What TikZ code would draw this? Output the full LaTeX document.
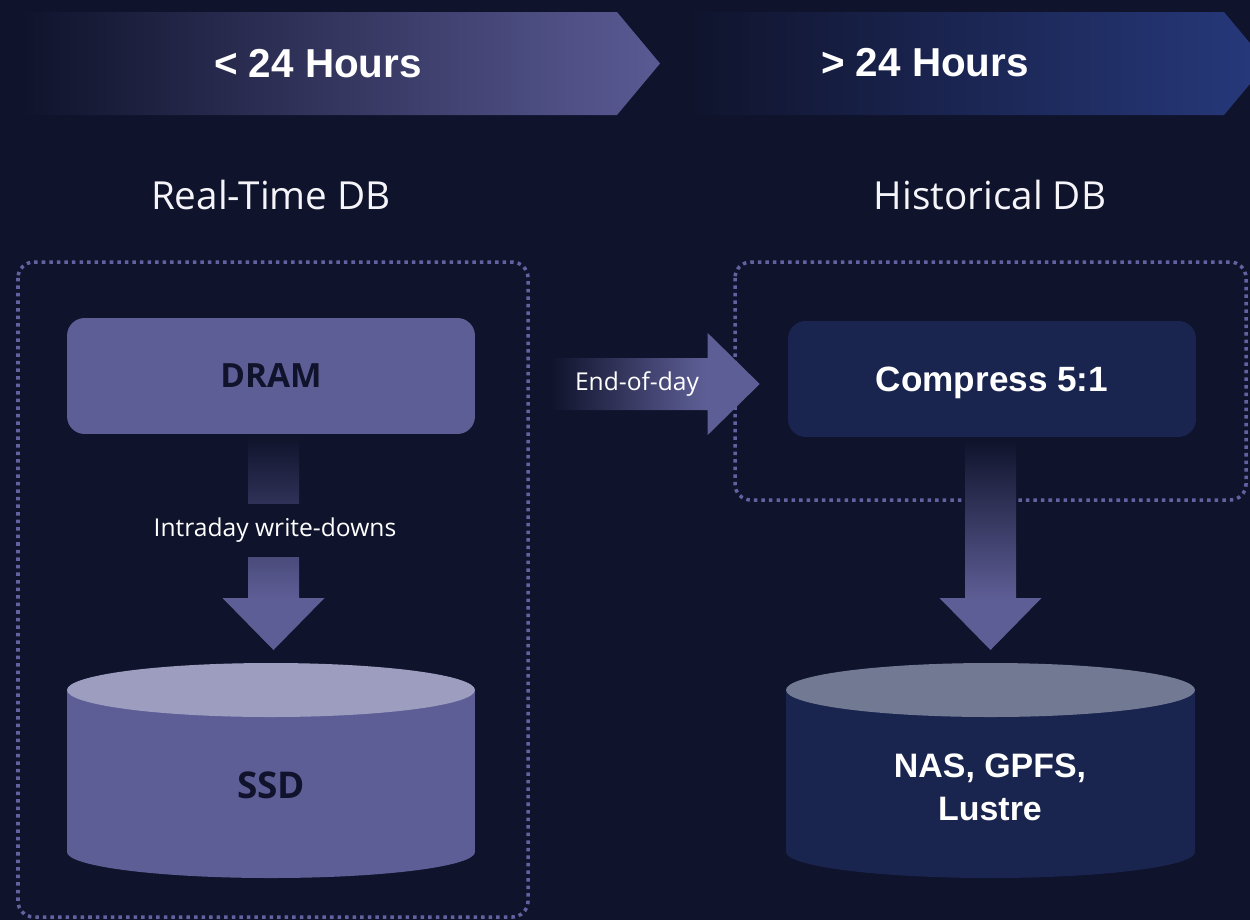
\documentclass[tikz,border=0pt]{standalone}
\usepackage{fontspec}
\setmainfont{Open Sans}
\newfontfamily\headfont{Liberation Sans}
\usetikzlibrary{positioning,calc}

\definecolor{bg}{HTML}{0F132B}
\definecolor{purp}{HTML}{5E5E96}
\definecolor{purptop}{HTML}{9D9DC0}
\definecolor{navy}{HTML}{19244F}
\definecolor{navytop}{HTML}{727A93}
\definecolor{bandL}{HTML}{5A5A94}
\definecolor{bandR}{HTML}{27397C}
\definecolor{ink}{HTML}{10132B}
\definecolor{dotc}{HTML}{6262A0}

\pgfdeclareverticalshading{fadedown}{100bp}{color(0bp)=(purp); color(37bp)=(purp); color(75bp)=(bg); color(100bp)=(bg)}
\pgfdeclarehorizontalshading{faderight}{100bp}{color(0bp)=(bg); color(25bp)=(bg); color(62bp)=(purp); color(100bp)=(purp)}

\tikzset{
  band text/.style={font=\headfont\bfseries\fontsize{23}{28}\selectfont, text=white},
  db title/.style={font=\fontsize{22}{26}\selectfont, text=white!94!purp},
  frame/.style={draw=dotc, line width=2pt, dash pattern=on 2pt off 2.3pt, rounded corners=9pt},
  store box/.style={rounded corners=10pt, minimum width=8.16cm, minimum height=2.32cm, inner sep=0pt},
  dark label/.style={font=\bfseries\fontsize{19}{23}\selectfont, text=ink},
  light label/.style={font=\headfont\bfseries\fontsize{20}{24.4}\selectfont, text=white, align=center},
  flow label/.style={font=\fontsize{14}{17}\selectfont, text=white},
}

\begin{document}
\begin{tikzpicture}[x=0.02cm, y=-0.02cm]
  \useasboundingbox (0,0) rectangle (1250,920);
  \clip (0,0) rectangle (1250,920);
  \fill[bg] (0,0) rectangle (1250,920);

  % time bands
  \shade[left color=bg, right color=bandL] (20,12) -- (617,12) -- (660,63.5) -- (617,115) -- (20,115) -- cycle;
  \shade[left color=bg, right color=bandR] (680,12) -- (1224,12) -- (1267,63.5) -- (1224,115) -- (680,115) -- cycle;
  \node[band text] (now) at (318,64) {< 24 Hours};
  \node[band text] (later) at (925,63) {> 24 Hours};

  % titles
  \node[db title] (rtdb) at (271,195) {Real-Time DB};
  \node[db title] (hdb) at (990,195) {Historical DB};

  % group frames
  \draw[frame] (18,262) rectangle (528,917);
  \draw[frame] (735,262) rectangle (1246,500);

  % boxes
  \node[store box, fill=purp, dark label] (dram) at (271,376) {DRAM};
  \node[store box, fill=navy, light label, text depth=0pt] (compress) at (992,379) {Compress 5:1};

  % SSD drum
  \fill[purp] (67,690) rectangle (475,852);
  \fill[purp] (271,852) ellipse[x radius=204, y radius=26];
  \fill[purptop] (271,690) ellipse[x radius=204, y radius=27];
  \node[dark label, font=\bfseries\fontsize{21}{25}\selectfont] (ssd) at (271,785) {SSD};
  \coordinate (ssdtop) at (273.5,663);

  % NAS drum
  \fill[navy] (786,690) rectangle (1195,852);
  \fill[navy] (990.5,852) ellipse[x radius=204.5, y radius=26];
  \fill[navytop] (990.5,690) ellipse[x radius=204.5, y radius=27];
  \node[light label, font=\headfont\bfseries\fontsize{19.3}{24.4}\selectfont] (nas) at (990,787) {NAS, GPFS,\\Lustre};
  \coordinate (nastop) at (990.5,663);

  % write-downs
  \coordinate (wdtop) at ($(dram.south)+(2.5,2)$);
  \coordinate (wdtip) at ($(ssdtop)+(0,-13)$);
  \shade[shading=fadedown] ($(wdtop)+(-25.5,0)$) -- ($(wdtip)+(-25.5,-52)$) -- ($(wdtip)+(-51,-52)$) -- (wdtip)
    -- ($(wdtip)+(51,-52)$) -- ($(wdtip)+(25.5,-52)$) -- ($(wdtop)+(25.5,0)$) -- cycle;
  \node[flow label, fill=bg, minimum height=1.06cm, inner xsep=2pt] (wd) at (275,530) {Intraday write-downs};

  % end of day
  \coordinate (eodstart) at ($(dram.east)+(75,8)$);
  \coordinate (eodtip) at ($(compress.west)+(-28,5)$);
  \shade[shading=faderight] ($(eodstart)+(0,-26)$) -- ($(eodtip)+(-52,-26)$) -- ($(eodtip)+(-52,-51)$) -- (eodtip)
    -- ($(eodtip)+(-52,51)$) -- ($(eodtip)+(-52,26)$) -- ($(eodstart)+(0,26)$) -- cycle;
  \node[flow label] (eod) at (637,384) {End-of-day};

  % archive
  \coordinate (artop) at ($(compress.south)+(-1.5,3)$);
  \coordinate (artip) at ($(nastop)+(0,-13)$);
  \shade[shading=fadedown] ($(artop)+(-25.5,0)$) -- ($(artip)+(-25.5,-52)$) -- ($(artip)+(-51,-52)$) -- (artip)
    -- ($(artip)+(51,-52)$) -- ($(artip)+(25.5,-52)$) -- ($(artop)+(25.5,0)$) -- cycle;
\end{tikzpicture}
\end{document}
